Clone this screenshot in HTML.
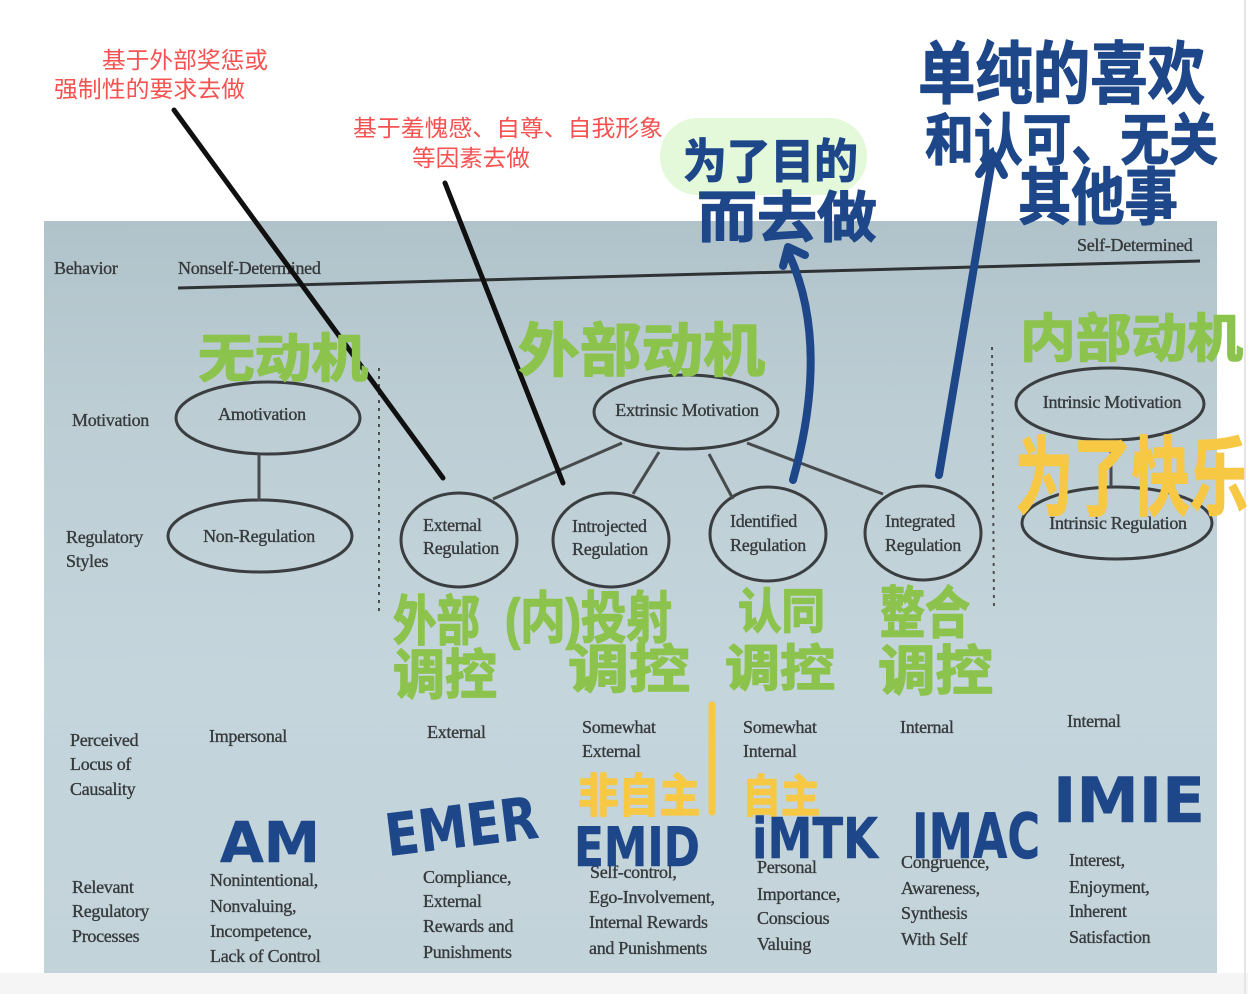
<!DOCTYPE html>
<html><head><meta charset="utf-8">
<style>
html,body{margin:0;padding:0;background:#fff;}
svg{display:block;}
.p{font-family:"Liberation Serif",serif;font-size:18px;fill:#363a3c;stroke:#363a3c;stroke-width:0.35;letter-spacing:-0.3px;}
.g{font-family:"Liberation Sans","Noto Sans CJK SC",sans-serif;font-weight:700;fill:#8cc34d;stroke:#8cc34d;stroke-width:1.5;stroke-linejoin:round;paint-order:stroke;}
.y{font-family:"Liberation Sans","Noto Sans CJK SC",sans-serif;font-weight:700;fill:#f6c844;stroke:#f6c844;stroke-width:1.5;stroke-linejoin:round;paint-order:stroke;}
.b{font-family:"Liberation Sans","Noto Sans CJK SC",sans-serif;font-weight:700;fill:#1e478a;stroke:#1e478a;stroke-width:1.2;stroke-linejoin:round;paint-order:stroke;}
.bl{font-family:"DejaVu Sans","Liberation Sans",sans-serif;font-weight:700;fill:#1e478a;stroke:#1e478a;stroke-width:0.5;stroke-linejoin:round;}
.r{font-family:"Liberation Sans","Noto Sans CJK SC",sans-serif;font-size:23px;fill:#f65252;}
</style></head>
<body>
<svg width="1248" height="994" viewBox="0 0 1248 994" xmlns="http://www.w3.org/2000/svg">
<defs>
<linearGradient id="bg" x1="0" y1="0" x2="0" y2="1">
<stop offset="0" stop-color="#b1c3ca"/>
<stop offset="0.25" stop-color="#bccdd4"/>
<stop offset="0.6" stop-color="#c5d5dc"/>
<stop offset="1" stop-color="#c3d3da"/>
</linearGradient>
</defs>
<rect x="0" y="0" width="1248" height="994" fill="#ffffff"/>
<rect x="0" y="973" width="1248" height="21" fill="#f5f5f5"/>
<line x1="1245" y1="0" x2="1245" y2="994" stroke="#e6e6e6" stroke-width="2"/>
<rect x="44" y="221" width="1173" height="752" fill="url(#bg)"/>

<!-- header -->
<text class="p" x="54" y="274">Behavior</text>
<text class="p" x="178" y="274">Nonself-Determined</text>
<text class="p" x="1077" y="251">Self-Determined</text>
<line x1="178" y1="288" x2="1200" y2="261" stroke="#2f3335" stroke-width="3"/>

<!-- dotted separators -->
<line x1="379" y1="368" x2="379" y2="612" stroke="#4a4e50" stroke-width="2" stroke-dasharray="3 5"/>
<line x1="992" y1="347" x2="994" y2="610" stroke="#4a4e50" stroke-width="2" stroke-dasharray="3 5"/>

<!-- row labels -->
<text class="p" x="72" y="426">Motivation</text>
<text class="p" x="66" y="543">Regulatory</text>
<text class="p" x="66" y="567">Styles</text>

<!-- ellipses -->
<g fill="none" stroke="#3a3e40" stroke-width="3">
<ellipse cx="268" cy="418" rx="92" ry="36"/>
<ellipse cx="260" cy="536" rx="92" ry="36"/>
<ellipse cx="686" cy="412" rx="92" ry="37"/>
<ellipse cx="459" cy="540" rx="58" ry="47"/>
<ellipse cx="611" cy="540" rx="58" ry="47"/>
<ellipse cx="768" cy="534" rx="58" ry="47"/>
<ellipse cx="923" cy="533" rx="58" ry="47"/>
<ellipse cx="1110" cy="404" rx="94" ry="36"/>
<ellipse cx="1117" cy="523" rx="95" ry="36"/>
</g>
<g stroke="#474b4d" stroke-width="3">
<line x1="259" y1="454" x2="259" y2="501"/>
<line x1="622" y1="443" x2="493" y2="499"/>
<line x1="659" y1="452" x2="633" y2="494"/>
<line x1="709" y1="454" x2="733" y2="499"/>
<line x1="747" y1="443" x2="883" y2="494"/>
<line x1="1111" y1="440" x2="1111" y2="487"/>
</g>

<text class="p" x="262" y="420" text-anchor="middle">Amotivation</text>
<text class="p" x="259" y="542" text-anchor="middle">Non-Regulation</text>
<text class="p" x="687" y="416" text-anchor="middle">Extrinsic Motivation</text>
<text class="p" x="423" y="531">External</text>
<text class="p" x="423" y="554">Regulation</text>
<text class="p" x="572" y="532">Introjected</text>
<text class="p" x="572" y="555">Regulation</text>
<text class="p" x="730" y="527">Identified</text>
<text class="p" x="730" y="551">Regulation</text>
<text class="p" x="885" y="527">Integrated</text>
<text class="p" x="885" y="551">Regulation</text>
<text class="p" x="1112" y="408" text-anchor="middle">Intrinsic Motivation</text>
<text class="p" x="1118" y="529" text-anchor="middle">Intrinsic Regulation</text>

<!-- perceived locus -->
<text class="p" x="70" y="746">Perceived</text>
<text class="p" x="70" y="770">Locus of</text>
<text class="p" x="70" y="795">Causality</text>
<text class="p" x="209" y="742">Impersonal</text>
<text class="p" x="427" y="738">External</text>
<text class="p" x="582" y="733">Somewhat</text>
<text class="p" x="582" y="757">External</text>
<text class="p" x="743" y="733">Somewhat</text>
<text class="p" x="743" y="757">Internal</text>
<text class="p" x="900" y="733">Internal</text>
<text class="p" x="1067" y="727">Internal</text>

<!-- processes -->
<text class="p" x="72" y="893">Relevant</text>
<text class="p" x="72" y="917">Regulatory</text>
<text class="p" x="72" y="942">Processes</text>
<text class="p" x="210" y="886">Nonintentional,</text>
<text class="p" x="210" y="912">Nonvaluing,</text>
<text class="p" x="210" y="937">Incompetence,</text>
<text class="p" x="210" y="962">Lack of Control</text>
<text class="p" x="423" y="883">Compliance,</text>
<text class="p" x="423" y="907">External</text>
<text class="p" x="423" y="932">Rewards and</text>
<text class="p" x="423" y="958">Punishments</text>
<text class="p" x="590" y="878">Self-control,</text>
<text class="p" x="589" y="903">Ego-Involvement,</text>
<text class="p" x="589" y="928">Internal Rewards</text>
<text class="p" x="589" y="954">and Punishments</text>
<text class="p" x="757" y="873">Personal</text>
<text class="p" x="757" y="900">Importance,</text>
<text class="p" x="757" y="924">Conscious</text>
<text class="p" x="757" y="950">Valuing</text>
<text class="p" x="901" y="868">Congruence,</text>
<text class="p" x="901" y="894">Awareness,</text>
<text class="p" x="901" y="919">Synthesis</text>
<text class="p" x="901" y="945">With Self</text>
<text class="p" x="1069" y="866">Interest,</text>
<text class="p" x="1069" y="893">Enjoyment,</text>
<text class="p" x="1069" y="917">Inherent</text>
<text class="p" x="1069" y="943">Satisfaction</text>

<!-- red annotations -->
<text class="r" x="102" y="68" textLength="166" lengthAdjust="spacingAndGlyphs">基于外部奖惩或</text>
<text class="r" x="54" y="97" textLength="191" lengthAdjust="spacingAndGlyphs">强制性的要求去做</text>
<text class="r" x="353" y="136" textLength="310" lengthAdjust="spacingAndGlyphs">基于羞愧感、自尊、自我形象</text>
<text class="r" x="412" y="166" textLength="118" lengthAdjust="spacingAndGlyphs">等因素去做</text>

<!-- black pointer lines -->
<line x1="174" y1="110" x2="443" y2="478" stroke="#101010" stroke-width="5" stroke-linecap="round"/>
<line x1="445" y1="183" x2="563" y2="483" stroke="#101010" stroke-width="5" stroke-linecap="round"/>

<!-- green pill -->
<rect x="660" y="118" width="207" height="77" rx="38" fill="#e3f9d9"/>

<!-- blue arrows -->
<path d="M793,480 C815,400 820,320 788,252" fill="none" stroke="#1e478a" stroke-width="8" stroke-linecap="round"/>
<polyline points="783,266 788,247 805,255" fill="none" stroke="#1e478a" stroke-width="8" stroke-linecap="round" stroke-linejoin="round"/>
<line x1="939" y1="475" x2="992" y2="160" stroke="#1e478a" stroke-width="8" stroke-linecap="round"/>
<polyline points="979,174 993,155 1004,175" fill="none" stroke="#1e478a" stroke-width="8" stroke-linecap="round" stroke-linejoin="round"/>

<!-- blue handwritten Chinese -->
<text class="b" x="918" y="98" font-size="68" textLength="287" lengthAdjust="spacingAndGlyphs">单纯的喜欢</text>
<text class="b" x="925" y="160" font-size="56" textLength="293" lengthAdjust="spacingAndGlyphs">和认可、无关</text>
<text class="b" x="1018" y="219" font-size="62" textLength="160" lengthAdjust="spacingAndGlyphs">其他事</text>
<text class="b" x="683" y="178" font-size="47" textLength="175" lengthAdjust="spacingAndGlyphs">为了目的</text>
<text class="b" x="697" y="237" font-size="55" textLength="180" lengthAdjust="spacingAndGlyphs">而去做</text>

<!-- green handwritten -->
<text class="g" x="198" y="377" font-size="52" textLength="170" lengthAdjust="spacingAndGlyphs">无动机</text>
<text class="g" x="518" y="371" font-size="58" textLength="247" lengthAdjust="spacingAndGlyphs">外部动机</text>
<text class="g" x="1020" y="357" font-size="52" textLength="223" lengthAdjust="spacingAndGlyphs">内部动机</text>
<text class="g" x="393" y="640" font-size="54" textLength="87" lengthAdjust="spacingAndGlyphs">外部</text>
<text class="g" x="393" y="694" font-size="54" textLength="104" lengthAdjust="spacingAndGlyphs">调控</text>
<text class="g" x="505" y="638" font-size="56" textLength="167" lengthAdjust="spacingAndGlyphs">(内)投射</text>
<text class="g" x="568" y="688" font-size="52" textLength="122" lengthAdjust="spacingAndGlyphs">调控</text>
<text class="g" x="738" y="628" font-size="48" textLength="87" lengthAdjust="spacingAndGlyphs">认同</text>
<text class="g" x="725" y="686" font-size="50" textLength="110" lengthAdjust="spacingAndGlyphs">调控</text>
<text class="g" x="880" y="633" font-size="56" textLength="90" lengthAdjust="spacingAndGlyphs">整合</text>
<text class="g" x="878" y="690" font-size="54" textLength="115" lengthAdjust="spacingAndGlyphs">调控</text>

<!-- yellow -->
<text class="y" x="1015" y="508" font-size="86" textLength="233" lengthAdjust="spacingAndGlyphs">为了快乐</text>
<line x1="712" y1="705" x2="712" y2="812" stroke="#f6c844" stroke-width="7" stroke-linecap="round"/>
<text class="y" x="578" y="812" font-size="46" textLength="122" lengthAdjust="spacingAndGlyphs">非自主</text>
<text class="y" x="742" y="812" font-size="45" textLength="78" lengthAdjust="spacingAndGlyphs">自主</text>

<!-- blue letters -->
<text class="bl" x="220" y="862" font-size="56" textLength="100" lengthAdjust="spacingAndGlyphs">AM</text>
<text class="bl" x="388" y="856" font-size="58" textLength="153" lengthAdjust="spacingAndGlyphs" transform="rotate(-7 388 856)">EMER</text>
<text class="bl" x="574" y="866" font-size="54" textLength="126" lengthAdjust="spacingAndGlyphs">EMID</text>
<text class="bl" x="752" y="858" font-size="56" textLength="126" lengthAdjust="spacingAndGlyphs">iMTK</text>
<text class="bl" x="912" y="858" font-size="62" textLength="128" lengthAdjust="spacingAndGlyphs">IMAC</text>
<text class="bl" x="1053" y="822" font-size="62" textLength="152" lengthAdjust="spacingAndGlyphs">IMIE</text>
</svg>
</body></html>
